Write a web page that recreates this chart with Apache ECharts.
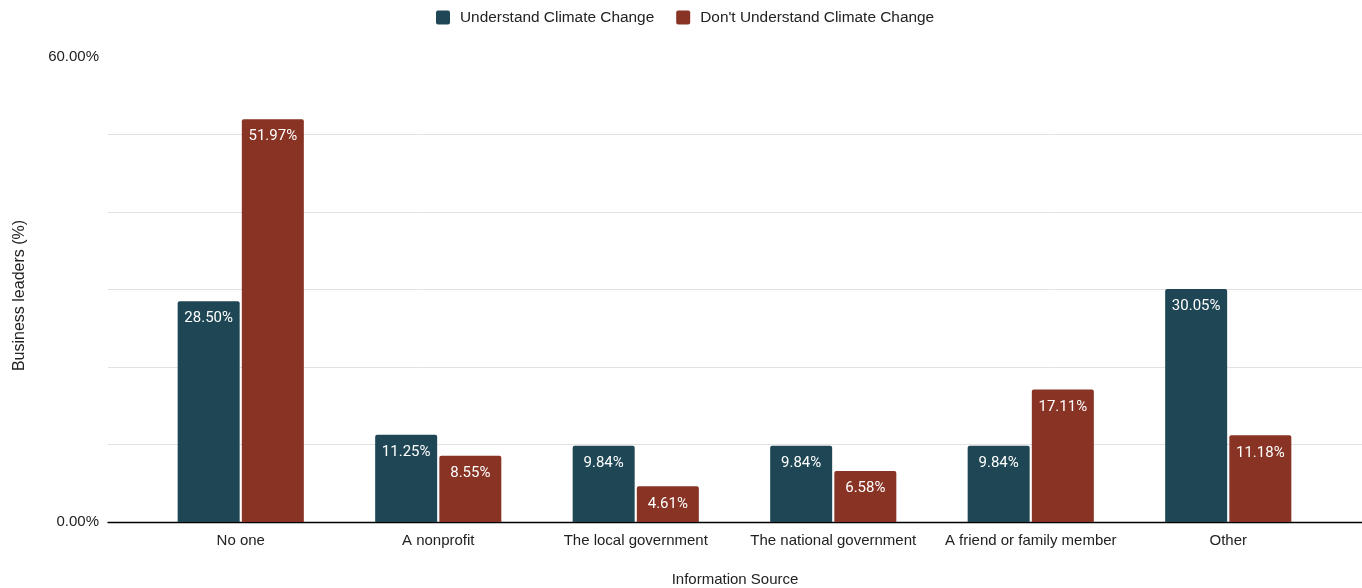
<!DOCTYPE html>
<html>
<head>
<meta charset="utf-8">
<script src="https://cdn.jsdelivr.net/npm/echarts@6/dist/echarts.min.js"></script>
<style>
  html, body { margin: 0; padding: 0; background: #fff; }
  #chart { width: 1362px; height: 588px; }
</style>
</head>
<body>
<div id="chart"></div>
<script>
// Information sources by business leaders' understanding of climate change
const categories = ['No one', 'A nonprofit', 'The local government', 'The national government', 'A friend or family member', 'Other'];
const understand = [28.50, 11.25, 9.84, 9.84, 9.84, 30.05];
const dontUnderstand = [51.97, 8.55, 4.61, 6.58, 17.11, 11.18];
const seriesNames = ['Understand Climate Change', "Don't Understand Climate Change"];
const yMin = 0, yMax = 60, yStep = 10;

const BLUE = '#1f4655';
const RED = '#883324';
const AXIS_FONT = 'Liberation Sans, Arial, sans-serif';
const FS = 15;
// square legend swatch with slightly softened corners
const SWATCH = 'path://M2,0 L12,0 Q14,0 14,2 L14,12 Q14,14 12,14 L2,14 Q0,14 0,12 L0,2 Q0,0 2,0 Z';

const chart = echarts.init(document.getElementById('chart'), null, { renderer: 'canvas' });

const barLabel = {
  show: true,
  position: 'insideTop',
  distance: 10,
  color: '#fff',
  fontSize: FS,
  fontFamily: 'Roboto, sans-serif',
  formatter: p => p.value.toFixed(2) + '%'
};

chart.setOption({
  animation: false,
  legend: {
    top: 5,
    left: 431,
    itemWidth: 14,
    itemHeight: 14,
    itemGap: 22,
    icon: SWATCH,
    textStyle: { fontSize: 15.4, color: '#222', fontFamily: AXIS_FONT, padding: [0, 0, 0, 5] },
    data: seriesNames
  },
  grid: [
    // full-width frame: gridlines, baseline, axis names
    { left: 108, right: 0, top: 57, bottom: 66, outerBoundsMode: 'none' },
    // inner band holding the bars
    { left: 142, right: 35, top: 57, bottom: 66, outerBoundsMode: 'none' }
  ],
  xAxis: [
    {
      gridIndex: 0, type: 'value', min: 0, max: 1,
      axisLine: { show: true, onZero: false, lineStyle: { color: '#000', width: 1.3 } },
      axisTick: { show: false }, axisLabel: { show: false }, splitLine: { show: false },
      name: 'Information Source', nameLocation: 'middle', nameGap: 50,
      nameTextStyle: { fontSize: FS, color: '#222', fontFamily: AXIS_FONT }
    },
    {
      gridIndex: 1, type: 'category', data: categories,
      axisLine: { show: false }, axisTick: { show: false },
      axisLabel: { fontSize: FS, color: '#222', fontFamily: AXIS_FONT, margin: 11, interval: 0 }
    }
  ],
  yAxis: [
    {
      gridIndex: 0, type: 'value', min: yMin, max: yMax, interval: yStep,
      axisLine: { show: false }, axisTick: { show: false },
      axisLabel: {
        fontSize: FS, color: '#222', fontFamily: AXIS_FONT, margin: 9,
        formatter: v => (v === yMin || v === yMax) ? v.toFixed(2) + '%' : ''
      },
      splitLine: { show: true, showMinLine: false, showMaxLine: false, lineStyle: { color: '#e2e2e2', width: 1 } },
      name: 'Business leaders (%)', nameLocation: 'middle', nameGap: 80,
      nameTextStyle: { fontSize: 16, color: '#222', fontFamily: AXIS_FONT, padding: [0, 12, 0, 0] }
    },
    {
      gridIndex: 1, type: 'value', min: yMin, max: yMax, interval: yStep,
      show: false
    }
  ],
  series: [
    {
      name: seriesNames[0], type: 'bar', xAxisIndex: 1, yAxisIndex: 1,
      data: understand, barWidth: 62, barGap: '3.5%',
      itemStyle: { color: BLUE, borderRadius: [2, 2, 0, 0] },
      label: barLabel
    },
    {
      name: seriesNames[1], type: 'bar', xAxisIndex: 1, yAxisIndex: 1,
      data: dontUnderstand, barWidth: 62, barGap: '3.5%',
      itemStyle: { color: RED, borderRadius: [2, 2, 0, 0] },
      label: barLabel
    }
  ]
});
</script>
</body>
</html>
